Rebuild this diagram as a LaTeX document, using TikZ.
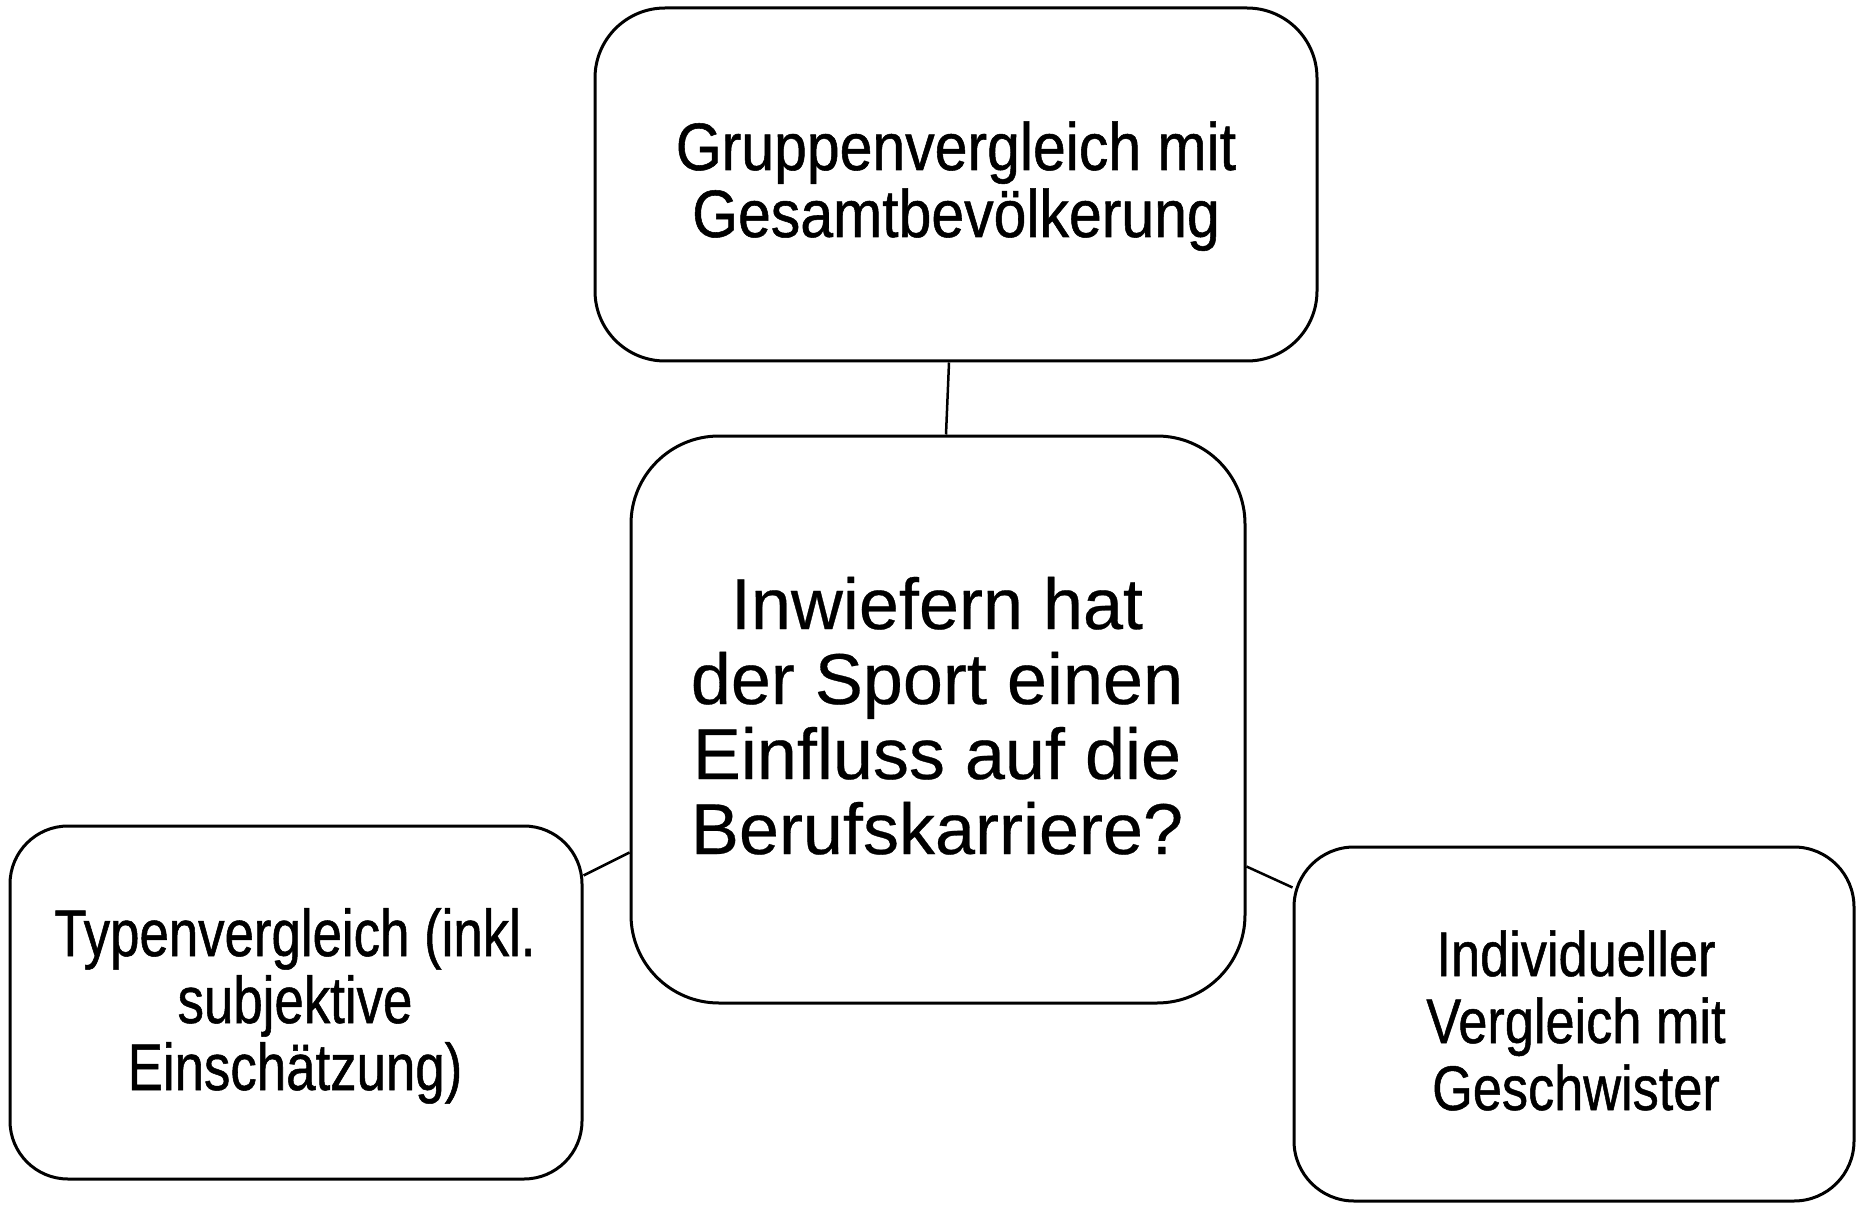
\documentclass[tikz,border=0pt]{standalone}
\usepackage{fontspec}
\setmainfont{Liberation Sans}
\newfontfamily\fTop[FakeStretch=0.88,FakeBold=0.8]{Liberation Sans}
\newfontfamily\fLeft[FakeStretch=0.80,FakeBold=0.8]{Liberation Sans}
\newfontfamily\fRight[FakeStretch=0.83,FakeBold=0.8]{Liberation Sans}
\newfontfamily\fMid[FakeBold=0.4]{Liberation Sans}
\begin{document}
\begin{tikzpicture}[x=1pt,y=-1pt,
  box/.style={draw=black, line width=3pt, fill=white, inner sep=0pt, rectangle},
  conn/.style={draw=black, line width=2.5pt},
  topline/.style={anchor=base, inner sep=0pt, font=\fTop\fontsize{67}{67}\selectfont},
  leftline/.style={anchor=base, inner sep=0pt, font=\fLeft\fontsize{66}{66}\selectfont},
  rightline/.style={anchor=base, inner sep=0pt, font=\fRight\fontsize{63}{63}\selectfont},
  midline/.style={anchor=base, inner sep=0pt, font=\fMid\fontsize{72}{72}\selectfont}]
\useasboundingbox (0,0) rectangle (1866,1214);
\fill[white] (0,0) rectangle (1866,1214);

\node[box, rounded corners=70pt, minimum width=722pt, minimum height=353pt] (top) at (956,184.5) {};
\node[box, rounded corners=88pt, minimum width=614pt, minimum height=567pt] (mid) at (938,719.5) {};
\node[box, rounded corners=58pt, minimum width=572pt, minimum height=353pt] (left) at (296,1002.5) {};
\node[box, rounded corners=60pt, minimum width=560pt, minimum height=354pt] (right) at (1574,1024) {};

\draw[conn] ([xshift=-7pt]top.south) -- ([xshift=8pt]mid.north);
\draw[conn] ([yshift=-51pt]left.north east) -- ([yshift=-418pt]mid.north west);
\draw[conn] ([yshift=-432pt]mid.north east) -- ([yshift=-42pt]right.north west);

\node[topline] (ta) at (956,170) {Gruppenvergleich mit};
\node[topline] (tb) at (956,237) {Gesamtbevölkerung};

\node[midline] (ma) at (937,629) {Inwiefern hat};
\node[midline] (mb) at (937,704) {der Sport einen};
\node[midline] (mc) at (937,779) {Einfluss auf die};
\node[midline] (md) at (937,854) {Berufskarriere?};

\node[leftline] (la) at (295,956) {Typenvergleich (inkl.};
\node[leftline] (lb) at (295,1023) {subjektive};
\node[leftline] (lc) at (295,1090) {Einschätzung)};

\node[rightline] (ra) at (1576,976) {Individueller};
\node[rightline] (rb) at (1576,1043) {Vergleich mit};
\node[rightline] (rc) at (1576,1110) {Geschwister};
\end{tikzpicture}
\end{document}
